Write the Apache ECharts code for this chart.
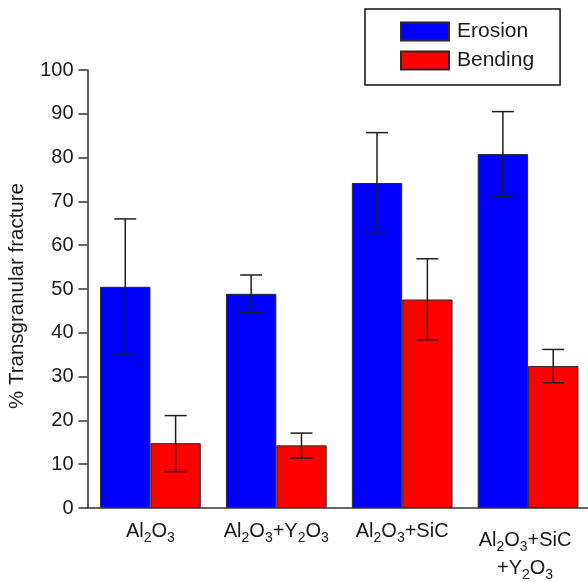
<!DOCTYPE html>
<html>
<head>
<meta charset="utf-8">
<script src="https://cdn.jsdelivr.net/npm/echarts@6/dist/echarts.min.js"></script>
<style>
html,body{margin:0;padding:0;background:#fff;}
#chart{width:588px;height:582px;}
</style>
</head>
<body>
<div id="chart"></div>
<script>
const categories = ['Al2O3', 'Al2O3+Y2O3', 'Al2O3+SiC', 'Al2O3+SiC\n+Y2O3'];
const erosion = [50.5, 48.9, 74.2, 80.8];
const erosionLow = [34.9, 44.7, 62.7, 71.2];
const erosionHigh = [66.0, 53.2, 85.7, 90.5];
const bending = [14.8, 14.3, 47.6, 32.4];
const bendingLow = [8.3, 11.4, 38.4, 28.6];
const bendingHigh = [21.1, 17.1, 56.9, 36.2];
const yTicks = [0, 10, 20, 30, 40, 50, 60, 70, 80, 90, 100];

const FONT = "'Liberation Sans', Arial, Helvetica, sans-serif";
const TXT = '#1a1a1a';
const catGap = 0.2;

function errSeries(low, high, side) {
  return {
    type: 'custom',
    silent: true,
    z: 5,
    data: low.map((l, i) => [i, l, high[i]]),
    renderItem: function (params, api) {
      const i = api.value(0);
      const band = api.size([1, 0])[0];
      const off = side * band * (1 - catGap) / 4;
      const top = api.coord([i, api.value(2)]);
      const bot = api.coord([i, api.value(1)]);
      const x = top[0] + off;
      const cap = 11;
      const st = { stroke: '#1e1e1e', lineWidth: 1.5 };
      return {
        type: 'group',
        children: [
          { type: 'line', shape: { x1: x, y1: top[1], x2: x, y2: bot[1] }, style: st },
          { type: 'line', shape: { x1: x - cap, y1: top[1], x2: x + cap, y2: top[1] }, style: st },
          { type: 'line', shape: { x1: x - cap, y1: bot[1], x2: x + cap, y2: bot[1] }, style: st }
        ]
      };
    }
  };
}

const xData = categories.map(c => c.indexOf('\n') >= 0
  ? { value: c, textStyle: { padding: [9, 6, 0, 0] } }
  : c);

const chart = echarts.init(document.getElementById('chart'));
chart.setOption({
  animation: false,
  backgroundColor: '#fff',
  textStyle: { fontFamily: FONT },
  grid: { left: 87.5, right: -3, top: 70, bottom: 74, outerBoundsMode: 'none', containLabel: false },
  legend: {
    data: ['Erosion', 'Bending'],
    orient: 'vertical',
    left: 365,
    top: 9,
    icon: 'rect',
    padding: [12, 26, 14, 35],
    borderColor: '#111',
    borderWidth: 1.5,
    itemWidth: 48,
    itemHeight: 18,
    itemGap: 8,
    textStyle: { fontSize: 21, color: TXT, fontFamily: FONT, lineHeight: 18, padding: [0, 0, 0, 3] }
  },
  xAxis: {
    type: 'category',
    data: xData,
    axisLine: { lineStyle: { color: '#333', width: 1.5 } },
    axisTick: { show: false },
    axisLabel: {
      color: TXT,
      fontSize: 20,
      fontFamily: FONT,
      lineHeight: 28,
      margin: 9,
      interval: 0,
      formatter: function (v) {
        return v.split('\n').map(line => line.replace(/(\d)/g, '{s|$1}')).join('\n');
      },
      rich: {
        s: { fontSize: 14, fontFamily: FONT, color: TXT, verticalAlign: 'bottom', lineHeight: 14 }
      }
    }
  },
  yAxis: {
    type: 'value',
    min: 0,
    max: 100,
    interval: 10,
    name: '% Transgranular fracture',
    nameLocation: 'middle',
    nameRotate: 90,
    nameGap: 60,
    nameTextStyle: { fontSize: 20.5, color: TXT, fontFamily: FONT, padding: [0, 14, 0, 0] },
    axisLine: { show: true, lineStyle: { color: '#333', width: 1.5 } },
    axisTick: { show: true, length: 9, lineStyle: { color: '#333', width: 1.5 } },
    splitLine: { show: false },
    axisLabel: {
      color: TXT,
      fontSize: 20,
      fontFamily: FONT,
      margin: 14,
      formatter: function (v) { return yTicks.indexOf(v) >= 0 ? String(v) : ''; }
    }
  },
  series: [
    {
      name: 'Erosion',
      type: 'bar',
      data: erosion,
      barGap: '0%',
      barCategoryGap: '20%',
      itemStyle: { color: '#0000ff', borderColor: '#2a2a2a', borderWidth: 1 }
    },
    {
      name: 'Bending',
      type: 'bar',
      data: bending,
      barGap: '0%',
      barCategoryGap: '20%',
      itemStyle: { color: '#ff0000', borderColor: '#2a2a2a', borderWidth: 1 }
    },
    errSeries(erosionLow, erosionHigh, -1),
    errSeries(bendingLow, bendingHigh, 1)
  ]
});
</script>
</body>
</html>
